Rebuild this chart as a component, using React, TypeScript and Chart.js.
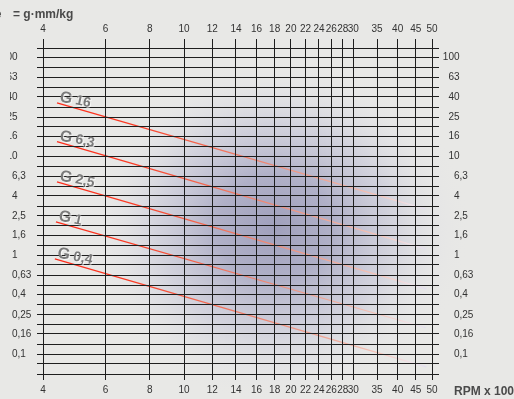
import React, { useEffect, useRef } from 'react';
import { Chart, registerables } from 'chart.js';

Chart.register(...registerables);

// Axis ticks (RPM x 100) and balancing quality grid
const xTicks = [4, 6, 8, 10, 12, 14, 16, 18, 20, 22, 24, 26, 28, 30, 35, 40, 45, 50];
const yGrid = [0.063, 0.08, 0.1, 0.125, 0.16, 0.2, 0.25, 0.315, 0.4, 0.5, 0.63, 0.8, 1, 1.25, 1.6, 2, 2.5, 3.15, 4, 5, 6.3, 8, 10, 12.5, 16, 20, 25, 31.5, 40, 50, 63, 80, 100, 125];
const yTickValues = [0.1, 0.16, 0.25, 0.4, 0.63, 1, 1.6, 2.5, 4, 6.3, 10, 16, 25, 40, 63, 100];
const yTickLabels = ['0,1', '0,16', '0,25', '0,4', '0,63', '1', '1,6', '2,5', '4', '6,3', '10', '16', '25', '40', '63', '100'];

// Grade lines
const gradeLetters = ['G', 'G', 'G', 'G', 'G'];
const gradeNumbers = ['16', '6,3', '2,5', '1', '0,4'];
const rpmStart = [4.38, 4.38, 4.38, 4.35, 4.32];
const rpmEnd = [47.8, 48.0, 48.2, 48.0, 48.2];
const eStart = [34.9, 14.1, 5.54, 2.18, 0.921];
const eEnd = [2.95, 1.16, 0.458, 0.185, 0.0743];

const FONT = '"Liberation Sans", Arial, Helvetica, sans-serif';
const GRID = '#1e1e1e';

function lineGradient(chart: any) {
  const area = chart.chartArea;
  if (!area) return '#ff2a1a';
  const g = chart.ctx.createLinearGradient(area.left, 0, area.right, 0);
  g.addColorStop(0.0, '#ff2a1a');
  g.addColorStop(0.22, '#fb3a24');
  g.addColorStop(0.4, '#f4664e');
  g.addColorStop(0.58, '#ee8a76');
  g.addColorStop(0.74, '#f0a898');
  g.addColorStop(0.87, '#f4c6bc');
  g.addColorStop(0.95, '#f0e2ea');
  g.addColorStop(1.0, '#dadaf0');
  return g;
}

const bgPlugin = {
  id: 'bgPlugin',
  beforeDraw(chart: any) {
    const { ctx, width, height } = chart;
    ctx.save();
    ctx.fillStyle = '#e8e8e6';
    ctx.fillRect(0, 0, width, height);
    ctx.translate(275, 228);
    ctx.scale(1.12, 1);
    const g = ctx.createRadialGradient(0, 0, 0, 0, 0, 175);
    g.addColorStop(0, 'rgba(160,160,188,1)');
    g.addColorStop(0.3, 'rgba(170,170,196,0.9)');
    g.addColorStop(0.6, 'rgba(196,196,214,0.6)');
    g.addColorStop(0.85, 'rgba(225,225,230,0.25)');
    g.addColorStop(1, 'rgba(232,232,230,0)');
    ctx.fillStyle = g;
    ctx.beginPath();
    ctx.arc(0, 0, 175, 0, Math.PI * 2);
    ctx.fill();
    ctx.restore();
  },
};

const textPlugin = {
  id: 'textPlugin',
  afterDraw(chart: any) {
    const { ctx } = chart;
    const ys = chart.scales.y;
    const xs = chart.scales.x;
    ctx.save();
    // y labels, decimal aligned on both sides
    ctx.font = `10px ${FONT}`;
    ctx.fillStyle = '#333';
    ctx.textBaseline = 'middle';
    const drawSide = (anchor: number) => {
      yTickValues.forEach((v, i) => {
        const py = ys.getPixelForValue(v);
        const s = yTickLabels[i];
        const idx = s.indexOf(',');
        const intPart = idx >= 0 ? s.slice(0, idx) : s;
        const rest = idx >= 0 ? s.slice(idx) : '';
        ctx.textAlign = 'right';
        ctx.fillText(intPart, anchor, py);
        if (rest) {
          ctx.textAlign = 'left';
          ctx.fillText(rest, anchor, py);
        }
      });
    };
    ctx.save();
    ctx.beginPath();
    ctx.rect(10, 0, 40, chart.height);
    ctx.clip();
    drawSide(17.5);
    ctx.restore();
    drawSide(459.5);

    // grade labels
    gradeNumbers.forEach((num, i) => {
      const px = xs.getPixelForValue(rpmStart[i]);
      const py = ys.getPixelForValue(eStart[i]);
      ctx.save();
      ctx.translate(px + 2, py - 1.5);
      ctx.rotate((12 * Math.PI) / 180);
      ctx.textAlign = 'left';
      ctx.textBaseline = 'alphabetic';
      ctx.shadowColor = 'rgba(255,255,255,0.7)';
      ctx.shadowOffsetX = 1;
      ctx.shadowOffsetY = 1;
      ctx.shadowBlur = 0;
      ctx.fillStyle = '#7a7a7a';
      ctx.font = `bold 16px ${FONT}`;
      ctx.fillText(gradeLetters[i], 0, 0);
      const w = ctx.measureText(gradeLetters[i]).width;
      ctx.font = `bold 14px ${FONT}`;
      ctx.fillText(num, w + 3.5, -0.5);
      ctx.restore();
    });

    // titles
    ctx.fillStyle = '#4a4a4a';
    ctx.font = `bold 12px ${FONT}`;
    ctx.textBaseline = 'alphabetic';
    ctx.textAlign = 'right';
    ctx.fillText('e', 1.5, 17.5);
    ctx.textAlign = 'left';
    ctx.fillText('= g·mm/kg', 13, 17.5);
    ctx.fillText('RPM x 100', 454, 394.5);
    ctx.restore();
  },
};

function xAxis(position: string, tickLength: number, size: number, padding: number, onArea: boolean) {
  return {
    type: 'logarithmic',
    position,
    min: 4,
    max: 50,
    afterBuildTicks: (s: any) => {
      s.ticks = xTicks.map((v) => ({ value: v }));
    },
    afterFit: (s: any) => {
      s.height = size;
    },
    grid: { color: GRID, lineWidth: 1, tickLength, drawTicks: true, drawOnChartArea: onArea, z: 1 },
    border: { display: false },
    ticks: {
      autoSkip: false,
      maxRotation: 0,
      minRotation: 0,
      padding,
      color: '#333',
      font: { family: FONT, size: 10 },
      callback: (v: any) => String(v),
    },
  };
}

function yAxis(position: string, tickLength: number, size: number, onArea: boolean) {
  return {
    type: 'logarithmic',
    position,
    min: 0.063,
    max: 125,
    afterBuildTicks: (s: any) => {
      s.ticks = yGrid.map((v) => ({ value: v }));
    },
    afterFit: (s: any) => {
      s.width = size;
    },
    grid: { color: GRID, lineWidth: 1, tickLength, drawTicks: true, drawOnChartArea: onArea, z: 1 },
    border: { display: false },
    ticks: { display: false },
  };
}

export default function App() {
  const ref = useRef<HTMLCanvasElement>(null);
  useEffect(() => {
    if (!ref.current) return;
    const chart = new Chart(ref.current, {
      type: 'scatter',
      data: {
        datasets: gradeNumbers.map((n, i) => ({
          label: 'G ' + n,
          data: [
            { x: rpmStart[i], y: eStart[i] },
            { x: rpmEnd[i], y: eEnd[i] },
          ],
          showLine: true,
          borderColor: (c: any) => lineGradient(c.chart),
          borderWidth: 1.3,
          pointRadius: 0,
          xAxisID: 'x',
          yAxisID: 'y',
        })),
      },
      options: {
        animation: false,
        responsive: false,
        events: [],
        layout: { padding: 0 },
        plugins: { legend: { display: false }, tooltip: { enabled: false } },
        scales: {
          x: xAxis('bottom', 6, 25, 4, true),
          x2: xAxis('top', 9, 48, 4, false),
          y: yAxis('left', 6, 43, true),
          y2: yAxis('right', 7, 82, false),
        } as any,
      },
      plugins: [bgPlugin, textPlugin],
    } as any);
    return () => chart.destroy();
  }, []);
  return (
    <div style={{ position: 'fixed', left: 0, top: 0, width: 514, height: 399 }}>
      <canvas ref={ref} width={514} height={399} style={{ display: 'block' }} />
    </div>
  );
}
